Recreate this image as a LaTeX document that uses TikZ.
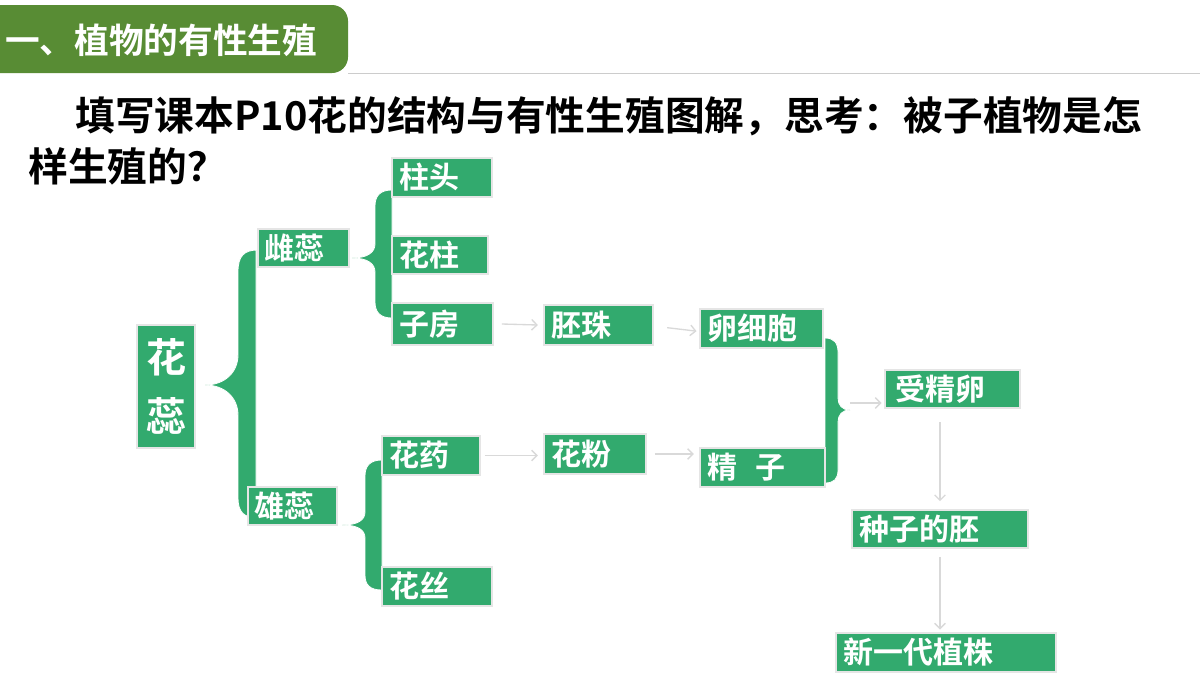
\documentclass[tikz,border=0pt]{standalone}
\usepackage{fontspec}
\setmainfont{Noto Sans CJK SC}[BoldFont={Noto Sans CJK SC Bold}]
\usetikzlibrary{fit,arrows.meta}
\definecolor{bg}{RGB}{50,170,110}
\definecolor{tg}{RGB}{88,140,52}
\tikzset{
 box/.style={fill=bg,draw=gray!20,line width=1.2pt,inner sep=0pt},
 lbl/.style={text=white,font=\bfseries\fontsize{22.5}{24}\selectfont,anchor=west,inner sep=0pt},
 brace/.style={fill=bg,draw=white,line width=0.6pt},
 arr/.style={draw=gray!30,line width=1pt,-{Straight Barb[length=4pt]}}
}
\begin{document}
\begin{tikzpicture}[x=0.75pt,y=-0.75pt]
\useasboundingbox (0,0) rectangle (1200,675);
\fill[white] (0,0) rectangle (1200,675);
% title
\fill[tg,rounded corners=12pt] (-20,5) rectangle (348,73);
\node[text=white,font=\bfseries\fontsize{26}{28}\selectfont,anchor=west,inner sep=0pt] (title) at (5,40) {一、植物的有性生殖};
\draw[gray!40,line width=0.6pt] (348,73) -- (1200,73);
\node[font=\bfseries\fontsize{29.8}{30}\selectfont,anchor=west,inner sep=0pt] (q1) at (75,116) {填写课本P10花的结构与有性生殖图解，思考：被子植物是怎};
\node[font=\bfseries\fontsize{29.8}{30}\selectfont,anchor=west,inner sep=0pt] (q2) at (28,166) {样生殖的？};
% braces
\path[brace] (258,250) .. controls (244,250) and (238,256) .. (238,272) -- (238,355) .. controls (238,372) and (225,385) .. (205,385)
  .. controls (225,385) and (238,398) .. (238,415) -- (238,498) .. controls (238,512) and (244,518) .. (258,518) -- (256,518) -- (256,250) -- cycle;
\path[brace] (392,190) .. controls (380,190) and (375,196) .. (375,206) -- (375,244) .. controls (375,252) and (368,258) .. (352,258)
  .. controls (368,258) and (375,264) .. (375,272) -- (375,302) .. controls (375,312) and (380,318) .. (392,318) -- cycle;
\path[brace] (382,460) .. controls (370,460) and (365,466) .. (365,476) -- (365,512) .. controls (365,520) and (358,525) .. (342,525)
  .. controls (358,525) and (365,530) .. (365,538) -- (365,575) .. controls (365,585) and (370,590) .. (382,590) -- cycle;
\path[brace] (825,338) .. controls (834,338) and (838,343) .. (838,352) -- (838,398) .. controls (838,405) and (842,410) .. (850,410)
  .. controls (842,410) and (838,415) .. (838,422) -- (838,470) .. controls (838,479) and (834,483) .. (825,483) -- cycle;
% boxes
\node[box,fit={(137,325)(195,448)}] (hr) {};
\node[text=white,font=\bfseries\fontsize{30}{30}\selectfont,align=center,inner sep=0pt] at (hr.center) {花\\[14pt]蕊};
\node[box,fit={(258,229)(349,267)}] (cr) {};\node[lbl] at ([xshift=5pt]cr.west) {雌蕊};
\node[box,fit={(248,487)(337,525)}] (xr) {};\node[lbl] at ([xshift=5pt]xr.west) {雄蕊};
\node[box,fit={(392,158)(492,197)}] (zt) {};\node[lbl] at ([xshift=6pt]zt.west) {柱头};
\node[box,fit={(392,236)(488,274)}] (hz) {};\node[lbl] at ([xshift=6pt]hz.west) {花柱};
\node[box,fit={(392,303)(493,345)}] (zf) {};\node[lbl] at ([xshift=6pt]zf.west) {子房};
\node[box,fit={(544,305)(653,345)}] (pz) {};\node[lbl] at ([xshift=6pt]pz.west) {胚珠};
\node[box,fit={(700,309)(823,348)}] (lx) {};\node[lbl] at ([xshift=6pt]lx.west) {卵细胞};
\node[box,fit={(382,436)(480,475)}] (hy) {};\node[lbl] at ([xshift=6pt]hy.west) {花药};
\node[box,fit={(544,434)(646,474)}] (hf) {};\node[lbl] at ([xshift=6pt]hf.west) {花粉};
\node[box,fit={(700,448)(825,487)}] (jz) {};\node[lbl] at ([xshift=6pt]jz.west) {精\hspace{0.6em}子};
\node[box,fit={(382,567)(492,606)}] (hs) {};\node[lbl] at ([xshift=6pt]hs.west) {花丝};
\node[box,fit={(885,370)(1020,408)}] (sj) {};\node[lbl] at ([xshift=8pt]sj.west) {受精卵};
\node[box,fit={(852,510)(1028,548)}] (zp) {};\node[lbl] at ([xshift=6pt]zp.west) {种子的胚};
\node[box,fit={(836,633)(1056,672)}] (xy) {};\node[lbl] at ([xshift=6pt]xy.west) {新一代植株};
\coordinate (bp) at (850,403);
\coordinate (vx) at (940,0);
% arrows
\draw[arr] ([xshift=6pt]zf.east) -- ([xshift=-4pt]pz.west);
\draw[arr] ([xshift=10pt,yshift=-2pt]pz.east) -- ([xshift=-2pt,yshift=-2pt]lx.west);
\draw[arr] ([xshift=3pt]hy.east) -- ([xshift=-4pt]hf.west|-hy.east);
\draw[arr] ([xshift=6pt]hf.east) -- ([xshift=-4pt]jz.west|-hf.east);
\draw[arr] (bp) -- ([xshift=-2pt]sj.west|-bp);
\draw[arr] ([yshift=-10pt]vx|-sj.south) -- ([yshift=6pt]vx|-zp.north);
\draw[arr] ([yshift=-6pt]vx|-zp.south) -- ([yshift=2pt]vx|-xy.north);
\end{tikzpicture}
\end{document}
